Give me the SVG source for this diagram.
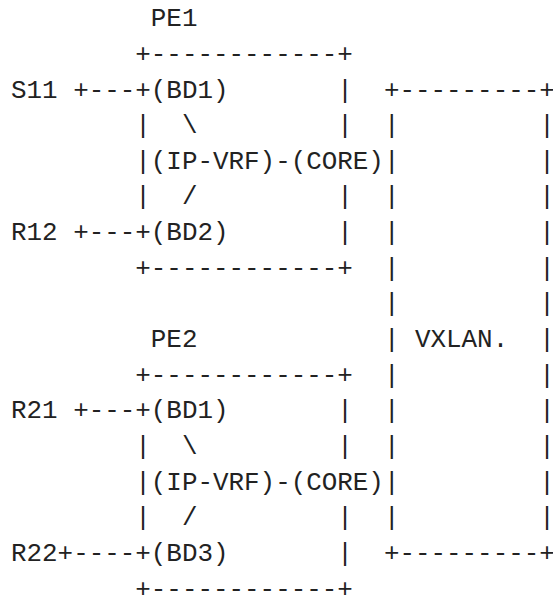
<svg xmlns="http://www.w3.org/2000/svg" width="553" height="596" viewBox="0 0 553 596">
<style>
  .t { font-family: "Liberation Mono", "DejaVu Sans Mono", monospace; font-size: 25.9px; fill: #222; white-space: pre; }
</style>
<rect width="553" height="596" fill="#ffffff"/>
<g id="ascii" xml:space="preserve">
<text class="t" x="11" y="26.2">         PE1</text>
<text class="t" x="11" y="61.85">        +------------+</text>
<text class="t" x="11" y="97.5">S11 +---+(BD1)       |  +---------+</text>
<text class="t" x="11" y="133.15">        |  \         |  |         |</text>
<text class="t" x="11" y="168.8">        |(IP-VRF)-(CORE)|         |</text>
<text class="t" x="11" y="204.45">        |  /         |  |         |</text>
<text class="t" x="11" y="240.1">R12 +---+(BD2)       |  |         |</text>
<text class="t" x="11" y="275.75">        +------------+  |         |</text>
<text class="t" x="11" y="311.4">                        |         |</text>
<text class="t" x="11" y="347.05">         PE2            | VXLAN.  |</text>
<text class="t" x="11" y="382.7">        +------------+  |         |</text>
<text class="t" x="11" y="418.35">R21 +---+(BD1)       |  |         |</text>
<text class="t" x="11" y="454">        |  \         |  |         |</text>
<text class="t" x="11" y="489.65">        |(IP-VRF)-(CORE)|         |</text>
<text class="t" x="11" y="525.3">        |  /         |  |         |</text>
<text class="t" x="11" y="560.95">R22+----+(BD3)       |  +---------+</text>
<text class="t" x="11" y="596.6">        +------------+</text>
</g>
</svg>
